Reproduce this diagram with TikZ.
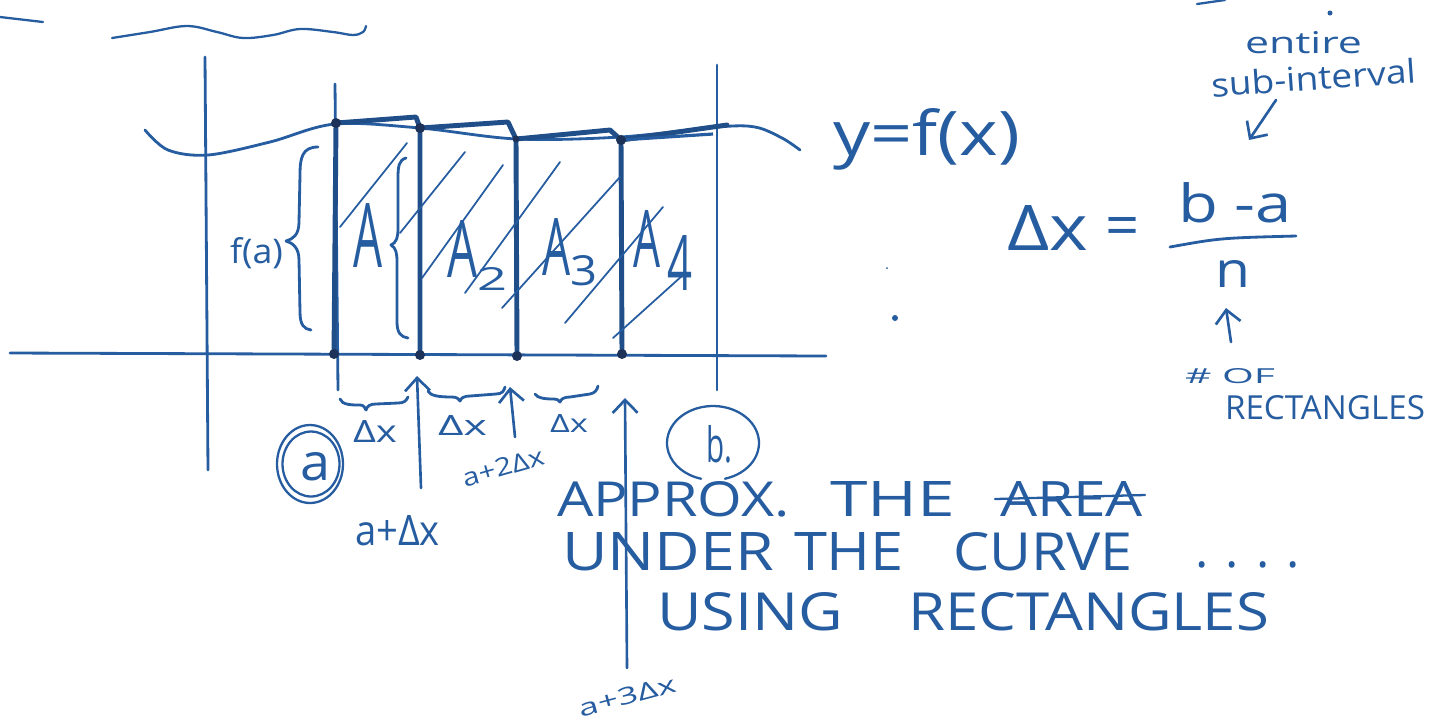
\documentclass[tikz,border=0pt]{standalone}
\usepackage{fontspec}
\usepackage{graphicx}
\setmainfont{Open Sans}
\usetikzlibrary{arrows.meta,calc}
\definecolor{ink}{RGB}{38,92,160}
\definecolor{inkdark}{RGB}{28,50,88}
\newlength\pxu
\setlength\pxu{0.2mm}
\newcommand\fitw[3]{\resizebox{#1\pxu}{#2\pxu}{#3}}
\begin{document}
\begin{tikzpicture}[x=0.02cm,y=-0.02cm,
  axisline/.style={ink, line width=1.6pt, line cap=round},
  thinline/.style={ink, line width=1.3pt, line cap=round},
  rectedge/.style={ink!85!black, line width=2.8pt, line cap=round, line join=round},
  hatchline/.style={ink, line width=1.0pt, line cap=round},
  curveline/.style={ink, line width=1.6pt, line cap=round},
  bracestroke/.style={ink, line width=1.6pt, line cap=round, line join=round},
  barb/.style={ink, line width=1.5pt, line cap=round, -{Straight Barb[length=0.26cm,width=0.5cm]}},
  lbl/.style={text=ink, inner sep=0pt, outer sep=0pt, anchor=base west},
  lblc/.style={text=ink, inner sep=0pt, outer sep=0pt, anchor=center}]
\useasboundingbox (0,0) rectangle (1430,725);

% ---- stray marks ----
\draw[thinline] (0,17) -- (43,22);
\draw[thinline] plot[smooth, tension=0.6] coordinates {(112,38) (150,32) (187,26) (217,32) (243,38) (273,35) (300,29) (333,32) (353,35) (363,32) (366,26)};
\draw[thinline] (1197,4) -- (1225,0);
\fill[ink] (1330,13) circle[radius=0.05cm];
\fill[ink] (895,318) circle[radius=0.06cm];
\fill[ink] (887,268) circle[radius=0.02cm];

% ---- axes and bounds ----
\coordinate (xL) at (10,353); \coordinate (xR) at (826,356);
\coordinate (yT) at (205,57); \coordinate (yB) at (208,470);
\coordinate (aT) at (335,84); \coordinate (aB) at (338,390);
\coordinate (bT) at (717,65); \coordinate (bB) at (717,390);
\draw[axisline] (xL) -- (xR);
\draw[axisline] (yT) -- (yB);
\draw[axisline] (aT) -- (aB);
\draw[axisline] (bT) -- (bB);

% ---- curve y = f(x) ----
\draw[curveline] plot[smooth, tension=0.55] coordinates {(145,130) (168,150) (208,155) (270,142) (335,124) (420,128) (517,139) (620,137) (717,127) (755,127) (782,138) (800,150)};

% ---- rectangles ----
\coordinate (r1tl) at (336,123); \coordinate (r1tr) at (416,117); \coordinate (r1bl) at (334,354);
\coordinate (r2tl) at (420,128); \coordinate (r2tr) at (508,122); \coordinate (r2bl) at (420,355);
\coordinate (r3tl) at (516,139); \coordinate (r3tr) at (610,130); \coordinate (r3bl) at (517,356);
\coordinate (r4tl) at (621,140); \coordinate (r4tr) at (727,125); \coordinate (r4bl) at (622,354);
\coordinate (r4m) at (713,134);
\draw[rectedge] (r1bl) -- (r1tl) -- (r1tr) -- (r2tl) -- (r2bl);
\draw[rectedge] (r2tl) -- (r2tr) -- (r3tl) -- (r3bl);
\draw[rectedge] (r3tl) -- (r3tr) -- (r4tl) -- (r4bl);
\draw[rectedge] (r4tl) -- (r4tr);
\draw[ink, line width=1.8pt] (r4tl) -- (r4m);
\foreach \p in {r1tl,r2tl,r4tl,r1bl,r2bl,r3bl,r4bl}{\fill[inkdark] (\p) circle[radius=0.1cm];}
\fill[inkdark] (r3tl) circle[radius=0.07cm];

% ---- hatching ----
\draw[hatchline] (340,227) -- (407,143);
\draw[hatchline] (400,233) -- (465,152);
\draw[hatchline] (422,278) -- (503,165);
\draw[hatchline] (465,293) -- (560,162);
\draw[hatchline] (502,308) -- (620,177);
\draw[hatchline] (565,323) -- (663,207);
\draw[hatchline] (613,338) -- (683,275);

% ---- braces ----
\draw[bracestroke] (318,147) .. controls (302,147) and (300,158) .. (300,175) -- (299,222) .. controls (299,235) and (293,239) .. (286,241) .. controls (293,243) and (299,248) .. (299,260) -- (300,312) .. controls (300,325) and (304,329) .. (311,330);
\draw[bracestroke] (406,158) .. controls (399,160) and (398,166) .. (398,178) -- (398,228) .. controls (398,238) and (396,243) .. (391,245) .. controls (396,248) and (397,253) .. (397,262) -- (397,322) .. controls (397,333) and (401,337) .. (408,338);
\draw[bracestroke] (340,399) .. controls (342,405) and (352,405) .. (360,405) .. controls (364,405) and (365,408) .. (366,410) .. controls (367,406) and (370,404) .. (376,404) -- (398,403) .. controls (404,403) and (406,401) .. (408,397);
\draw[bracestroke] (428,391) .. controls (430,396) and (440,397) .. (452,397) .. controls (457,397) and (459,399) .. (460,401) .. controls (461,398) and (464,396) .. (470,396) -- (496,394) .. controls (502,394) and (504,391) .. (505,387);
\draw[bracestroke] (535,394) .. controls (537,398) and (545,399) .. (553,399) .. controls (557,399) and (559,400) .. (560,402) .. controls (561,399) and (564,397) .. (570,397) -- (590,394) .. controls (595,393) and (597,390) .. (598,386);

% ---- arrows ----
\coordinate (ar1s) at (421,488); \coordinate (ar1e) at (417,376);
\coordinate (ar2s) at (515,437); \coordinate (ar2e) at (510,387);
\coordinate (ar3s) at (627,668); \coordinate (ar3e) at (625,398);
\coordinate (arns) at (1231,342); \coordinate (arne) at (1226,308);
\coordinate (arss) at (1276,100); \coordinate (arse) at (1249,140);
\draw[barb] (ar1s) -- (ar1e);
\draw[barb] (ar2s) -- (ar2e);
\draw[barb] (ar3s) -- (ar3e);
\draw[barb] (arns) -- (arne);
\draw[barb] (arss) -- (arse);

% ---- circled endpoints ----
\coordinate (ac) at (310,464);
\draw[thinline] (ac) ellipse[x radius=0.66cm, y radius=0.78cm];
\draw[thinline] ($(ac)+(1,0)$) ellipse[x radius=0.57cm, y radius=0.65cm];
\coordinate (bc) at (713,443);
\draw[thinline] ($(bc)+(285:0.92cm and 0.74cm)$) arc[start angle=285, end angle=615, x radius=0.92cm, y radius=0.74cm];

% ---- labels in the graph ----
\node[lbl] (tfa) at (230,263) {\fitw{53}{26}{f(a)}};
\node[lbl] (tA1) at (353,267) {\fitw{29}{64}{A}};
\node[lbl] (tA2) at (447,277) {\fitw{30}{57}{A}};
\node[lbl] (tA2s) at (477,290) {\fitw{30}{23}{2}};
\node[lbl] (tA3) at (542,275) {\fitw{28}{57}{A}};
\node[lbl] (tA3s) at (570,285) {\fitw{27}{30}{3}};
\node[lbl] (tA4) at (633,267) {\fitw{27}{57}{A}};
\node[lbl] (tA4s) at (667,290) {\fitw{25}{55}{4}};
\node[lbl] (tyfx) at (833,155) {\fitw{187}{47}{y=f(x)}};

\node[lbl] (tdx1) at (353,442) {\fitw{44}{22}{Δx}};
\node[lbl] (tdx2) at (438,435) {\fitw{49}{20}{Δx}};
\node[lbl] (tdx3) at (550,432) {\fitw{38}{18}{Δx}};
\node[lbl] (ta) at (300,480) {\fitw{30}{28}{a}};
\node[lbl] (tb) at (706,462) {\fitw{26}{37}{b.}};
\node[lbl] (tadx) at (355,545) {\fitw{85}{30}{a+Δx}};
\node[lblc, rotate=16] (ta2dx) at (503,467) {\fitw{84}{18}{a+2Δx}};
\node[lblc, rotate=15] (ta3dx) at (627,696) {\fitw{100}{17}{a+3Δx}};

% ---- formula ----
\node[lbl] (tDx) at (1007,250) {\fitw{81}{45}{Δx}};
\node[lblc] (teq) at (1123,232) {\fontsize{34}{40}\selectfont =};
\node[lbl] (tnum) at (1178,222) {\fitw{114}{40}{b -a}};
\coordinate (barL) at (1170,247); \coordinate (barR) at (1296,236);
\draw[thinline, line width=1.6pt] (barL) .. controls (1220,238) .. (barR);
\node[lbl] (tn) at (1215,287) {\fitw{35}{27}{n}};
\node[lbl] (tof) at (1185,383) {\fitw{90}{15}{\# OF}};
\node[lbl] (trect) at (1225,419) {\fitw{200}{24}{RECTANGLES}};
\node[lbl] (tent) at (1245,53) {\fitw{117}{22}{entire}};
\node[lbl, rotate=4] (tsub) at (1212,97) {\fitw{205}{25}{sub-interval}};

% ---- caption ----
\node[lbl] (w1) at (557,516) {\fitw{233}{35}{APPROX.}};
\node[lbl] (w2) at (830,516) {\fitw{125}{35}{THE}};
\node[lbl] (w3) at (1000,516) {\fitw{143}{35}{AREA}};
\draw[thinline] (995,499) -- (1145,495);
\node[lbl] (w4) at (562,570) {\fitw{212}{38}{UNDER}};
\node[lbl] (w5) at (794,570) {\fitw{110}{38}{THE}};
\node[lbl] (w6) at (953,570) {\fitw{180}{38}{CURVE}};
\node[lbl] (w7) at (1195,567) {\resizebox{105\pxu}{!}{. . . .}};
\node[lbl] (w8) at (657,630) {\fitw{186}{38}{USING}};
\node[lbl] (w9) at (908,630) {\fitw{361}{38}{RECTANGLES}};
\end{tikzpicture}
\end{document}
